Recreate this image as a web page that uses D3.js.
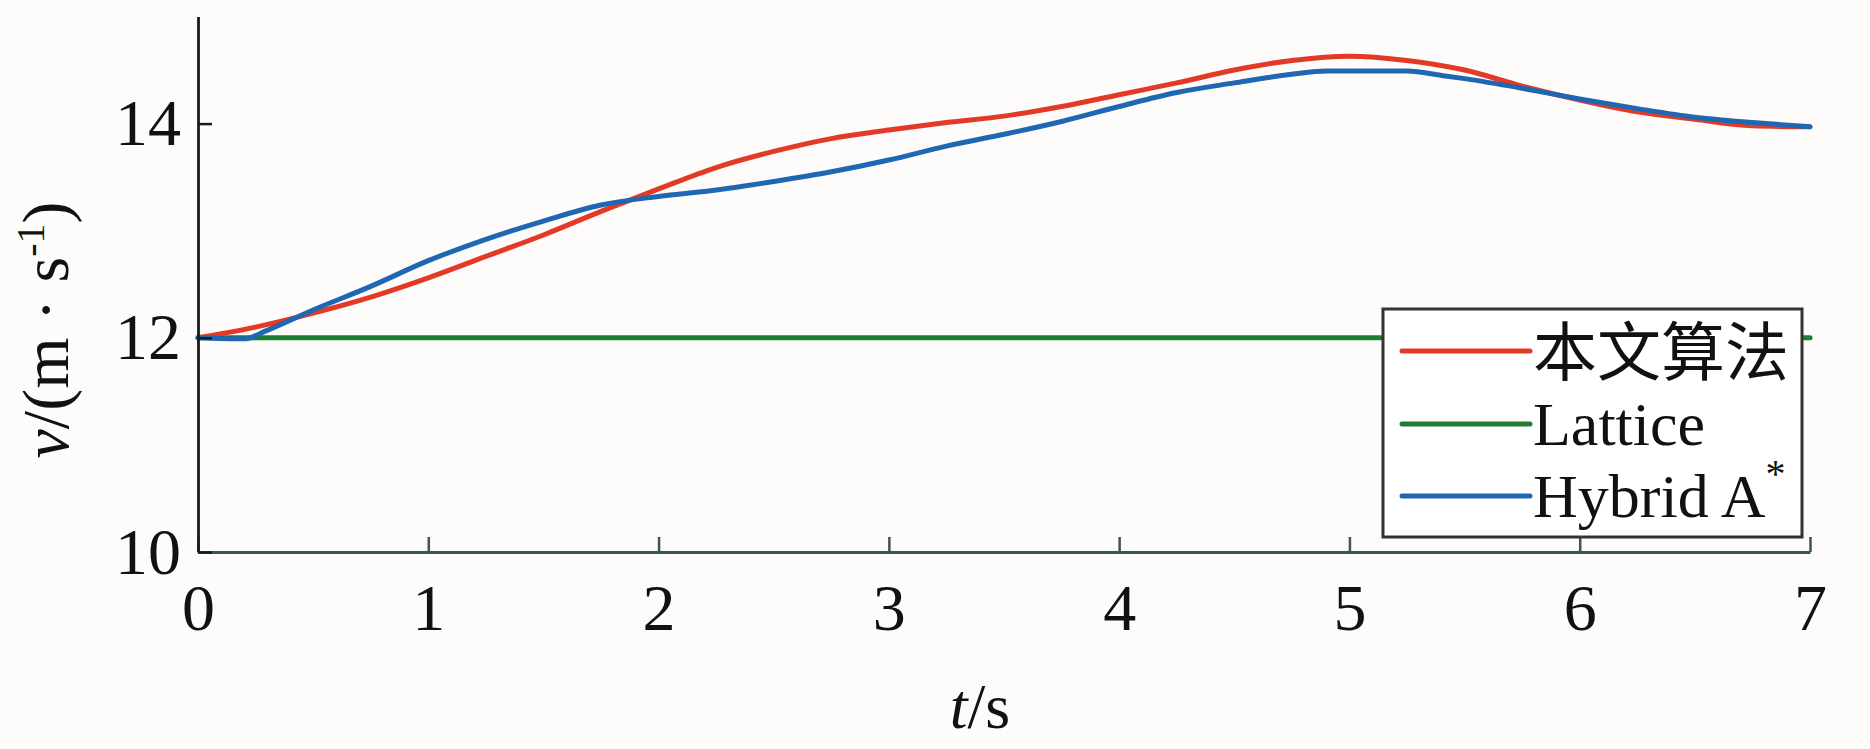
<!DOCTYPE html>
<html>
<head>
<meta charset="utf-8">
<script src="https://cdn.jsdelivr.net/npm/d3@7"></script>
<style>
  html, body { margin: 0; padding: 0; background: #fdfcfa; }
  svg { display: block; }
</style>
</head>
<body>
<svg id="chart" width="1870" height="749"></svg>
<script>
// ---- data ----
const seriesNames = ["本文算法", "Lattice", "Hybrid A*"];
const seriesColors = ["#e23a26", "#1f7d32", "#1f67b3"];

const tOurs = [0, 0.25, 0.5, 0.75, 1.0, 1.25, 1.5, 1.75, 2.0, 2.25, 2.5, 2.75, 3.0, 3.25, 3.5, 3.75, 4.0, 4.25, 4.5, 4.75, 5.0, 5.25, 5.5, 5.75, 6.0, 6.25, 6.5, 6.75, 7.0];
const vOurs = [12.00, 12.10, 12.23, 12.38, 12.56, 12.76, 12.96, 13.18, 13.39, 13.59, 13.74, 13.86, 13.94, 14.01, 14.07, 14.16, 14.27, 14.38, 14.50, 14.59, 14.63, 14.59, 14.50, 14.35, 14.22, 14.11, 14.04, 13.98, 13.97];

const tLattice = [0, 7];
const vLattice = [12.0, 12.0];

const tHybrid = [0, 0.2, 0.3, 0.5, 0.75, 1.0, 1.25, 1.5, 1.75, 2.0, 2.25, 2.5, 2.75, 3.0, 3.25, 3.5, 3.75, 4.0, 4.25, 4.5, 4.75, 4.9, 5.0, 5.25, 5.4, 5.5, 5.75, 6.0, 6.25, 6.5, 6.75, 7.0];
const vHybrid = [12.00, 11.99, 12.07, 12.26, 12.48, 12.72, 12.92, 13.09, 13.24, 13.32, 13.38, 13.46, 13.55, 13.66, 13.79, 13.90, 14.02, 14.16, 14.29, 14.38, 14.46, 14.49, 14.49, 14.49, 14.45, 14.42, 14.33, 14.23, 14.14, 14.06, 14.01, 13.97];

const xTicks = [0, 1, 2, 3, 4, 5, 6, 7];
const yTicks = [10, 12, 14];

// ---- layout ----
const svg = d3.select("#chart");
const x = d3.scaleLinear().domain([0, 7]).range([198, 1810]);
const y = d3.scaleLinear().domain([10, 15]).range([552, 16.5]);
const serif = "'Liberation Serif', 'Times New Roman', serif";

svg.append("rect").attr("width", 1870).attr("height", 749).attr("fill", "#fdfcfa");

// lines
const line = d3.line().x(d => x(d[0])).y(d => y(d[1])).curve(d3.curveMonotoneX);
const series = [
  { pts: d3.zip(tLattice, vLattice), color: seriesColors[1] },
  { pts: d3.zip(tOurs, vOurs), color: seriesColors[0] },
  { pts: d3.zip(tHybrid, vHybrid), color: seriesColors[2] }
];
series.forEach(s => {
  svg.append("path").datum(s.pts)
    .attr("d", line)
    .attr("fill", "none")
    .attr("stroke", s.color)
    .attr("stroke-width", 5)
    .attr("stroke-linejoin", "round")
    .attr("stroke-linecap", "round");
});

// x axis
const gx = svg.append("g").attr("transform", `translate(0,${y(10)})`)
  .call(d3.axisBottom(x).tickValues(xTicks).tickFormat(d3.format("d")).tickSize(-15).tickSizeOuter(0).tickPadding(31));
gx.select(".domain").attr("stroke", "#3b5656").attr("stroke-width", 3);
gx.selectAll(".tick line").attr("stroke", "#3b5656").attr("stroke-width", 2.5);
gx.selectAll(".tick text").attr("font-family", serif).attr("font-size", 66).attr("fill", "#111");

// y axis
const gy = svg.append("g").attr("transform", `translate(${x(0)},0)`)
  .call(d3.axisLeft(y).tickValues(yTicks).tickFormat(d3.format("d")).tickSize(-14).tickSizeOuter(0).tickPadding(17));
gy.select(".domain").attr("stroke", "#1a1a1a").attr("stroke-width", 2.8);
gy.selectAll(".tick line").attr("stroke", "#1a1a1a").attr("stroke-width", 2.5);
gy.selectAll(".tick text").attr("font-family", serif).attr("font-size", 66).attr("fill", "#111");

// axis titles
const xt = svg.append("text").attr("x", 980).attr("y", 728)
  .attr("text-anchor", "middle").attr("font-family", serif).attr("font-size", 64).attr("fill", "#111");
xt.append("tspan").attr("font-style", "italic").text("t");
xt.append("tspan").text("/s");

const yt = svg.append("text").attr("transform", "translate(68,330) rotate(-90)")
  .attr("text-anchor", "middle").attr("font-family", serif).attr("font-size", 66).attr("fill", "#111");
yt.append("tspan").attr("font-style", "italic").text("v");
yt.append("tspan").text("/(m · s");
yt.append("tspan").attr("font-size", 40).attr("dy", -24).text("-1");
yt.append("tspan").attr("dy", 24).text(")");

// legend
const lg = svg.append("g");
lg.append("rect").attr("x", 1383).attr("y", 309).attr("width", 419).attr("height", 228)
  .attr("fill", "#ffffff").attr("stroke", "#333").attr("stroke-width", 3);
const legendRows = [
  { name: seriesNames[0], color: seriesColors[0], y: 351, cjk: true },
  { name: seriesNames[1], color: seriesColors[1], y: 424 },
  { name: seriesNames[2], color: seriesColors[2], y: 496 }
];
legendRows.forEach(r => {
  lg.append("line").attr("x1", 1402).attr("x2", 1530).attr("y1", r.y).attr("y2", r.y)
    .attr("stroke", r.color).attr("stroke-width", 5).attr("stroke-linecap", "round");
  const t = lg.append("text").attr("x", 1533).attr("y", r.y + (r.cjk ? 24 : 21))
    .attr("font-family", r.cjk ? "'Noto Sans CJK SC', sans-serif" : serif)
    .attr("font-size", r.cjk ? 64 : 62).attr("fill", "#111");
  if (r.name.endsWith("*")) {
    t.append("tspan").text(r.name.slice(0, -1));
    t.append("tspan").attr("font-size", 40).attr("dy", -30).text("*");
  } else {
    t.text(r.name);
  }
});
</script>
</body>
</html>
